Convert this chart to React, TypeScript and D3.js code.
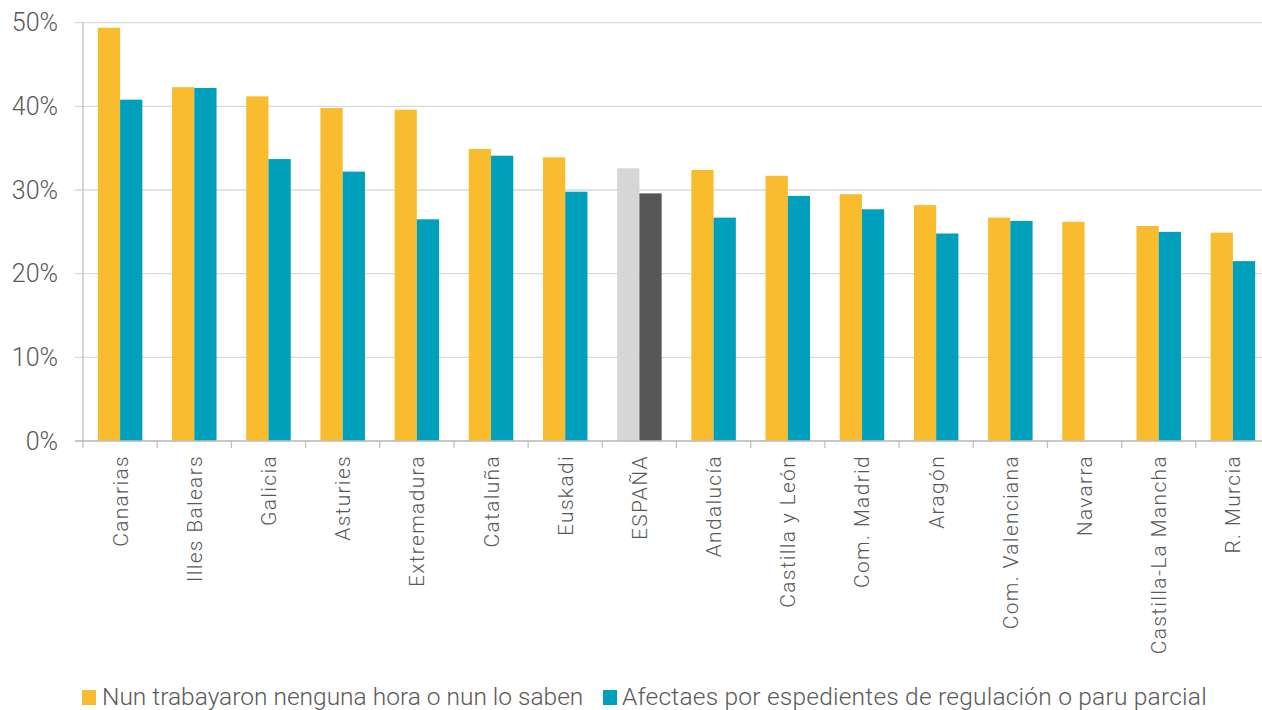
import React from "react";
import * as d3 from "d3";

const categories = ["Canarias","Illes Balears","Galicia","Asturies","Extremadura","Cataluña","Euskadi","ESPAÑA","Andalucía","Castilla y León","Com. Madrid","Aragón","Com. Valenciana","Navarra","Castilla-La Mancha","R. Murcia"];
const seriesA = [49.4,42.3,41.2,39.8,39.6,34.9,33.9,32.6,32.4,31.7,29.5,28.2,26.7,26.2,25.7,24.9];
const seriesB: (number|null)[] = [40.8,42.2,33.7,32.2,26.5,34.1,29.8,29.6,26.7,29.3,27.7,24.8,26.3,null,25.0,21.5];
const yTicks = [0,10,20,30,40,50];
const legendLabels = ["Nun trabayaron nenguna hora o nun lo saben","Afectaes por espedientes de regulación o paru parcial"];
const highlight = "ESPAÑA";

const W = 1262, H = 710;
const left = 83, right = 1270, top = 22.7, bottom = 441;
const colA = "#F9BC2F", colB = "#00A0BD", colAH = "#D6D6D6", colBH = "#575757";
const textCol = "#595959";
const font = "Roboto, 'Noto Sans', sans-serif";

export default function App() {
  const x = d3.scaleBand<string>().domain(categories).range([left, right]).paddingInner(0).paddingOuter(0);
  const y = d3.scaleLinear().domain([0, 50]).range([bottom, top]);
  const bw = x.bandwidth();
  const barW = bw * 0.3;
  return (
    <svg width={W} height={H} style={{ position: "absolute", left: 0, top: 0, background: "#fff" }} fontFamily={font}>
      {yTicks.map(t => (
        <g key={t}>
          <line x1={75} x2={W} y1={y(t)} y2={y(t)} stroke="#D9D9D9" strokeWidth={1.3} />
          <text x={58} y={y(t)} dy="0.35em" textAnchor="end" fontSize={25} fill={textCol} fontWeight={300}>{t}%</text>
        </g>
      ))}
      <line x1={left} x2={left} y1={top} y2={bottom + 7} stroke="#BFBFBF" strokeWidth={1.3} />
      {categories.map((c, i) => {
        const x0 = x(c)!;
        const cx = x0 + bw / 2;
        const hl = c === highlight;
        const a = seriesA[i], b = seriesB[i];
        return (
          <g key={c}>
            <rect x={cx - barW} y={y(a)} width={barW} height={bottom - y(a)} fill={hl ? colAH : colA} />
            {b != null && <rect x={cx} y={y(b)} width={barW} height={bottom - y(b)} fill={hl ? colBH : colB} />}
            <line x1={x0 + bw} x2={x0 + bw} y1={bottom} y2={bottom + 7} stroke="#BFBFBF" strokeWidth={1.3} />
            <text transform={`translate(${cx + 7.5},${455}) rotate(-90)`} textAnchor="end" fontSize={21} letterSpacing={1.3} fill={textCol} fontWeight={300}>{c}</text>
          </g>
        );
      })}
      <line x1={75} x2={W} y1={bottom} y2={bottom} stroke="#BFBFBF" strokeWidth={1.3} />
      <rect x={82} y={690} width={14} height={15} fill={colA} />
      <text x={102} y={705} fontSize={24.5} fill={textCol} fontWeight={300}>{legendLabels[0]}</text>
      <rect x={603} y={690} width={14} height={15} fill={colB} />
      <text x={622} y={705} fontSize={24.5} letterSpacing={0.22} fill={textCol} fontWeight={300}>{legendLabels[1]}</text>
    </svg>
  );
}
